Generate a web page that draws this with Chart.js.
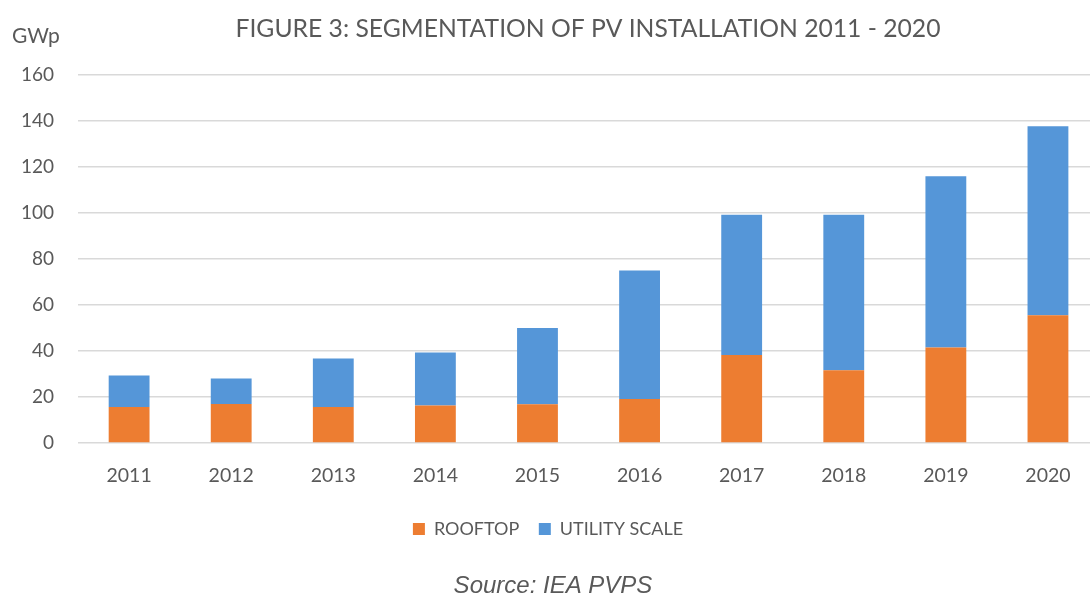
<!DOCTYPE html>
<html lang="en">
<head>
    <meta charset="UTF-8">
    <title>Segmentation of PV installation</title>
    <script src="https://cdn.jsdelivr.net/npm/chart.js"></script>
    <style>
        html, body { margin: 0; padding: 0; background: #fff; overflow: hidden; }
        #wrap { width: 1100px; height: 596px; position: relative; }
    </style>
</head>
<body>
    <div id="wrap"><canvas id="myChart"></canvas></div>

    <script>
// data (GWp)
const years = ['2011', '2012', '2013', '2014', '2015', '2016', '2017', '2018', '2019', '2020'];
const rooftop = [15.7, 17.0, 15.7, 16.3, 16.9, 19.2, 38.3, 31.7, 41.5, 55.6];
const utilityScale = [13.7, 11.1, 21.1, 23.1, 33.1, 55.8, 61.0, 67.6, 74.5, 82.1];
const yTicks = [0, 20, 40, 60, 80, 100, 120, 140, 160];

const grey = '#595959';

// title, unit label and source line
const extraText = {
    id: 'extraText',
    afterDraw(chart) {
        const ctx = chart.ctx;
        ctx.save();
        ctx.fillStyle = grey;
        ctx.textBaseline = 'middle';
        ctx.textAlign = 'center';
        ctx.font = '24.7px Lato';
        ctx.fillText('FIGURE 3: SEGMENTATION OF PV INSTALLATION 2011 - 2020', 588, 29);
        ctx.textAlign = 'left';
        ctx.font = '21px Lato';
        ctx.fillText('GWp', 12, 36);
        ctx.textAlign = 'center';
        ctx.font = 'italic 24px "Liberation Sans"';
        ctx.fillText('Source: IEA PVPS', 553, 586);
        ctx.restore();
    }
};

var ctx = document.getElementById('myChart').getContext('2d');
var myChart = new Chart(ctx, {
    type: 'bar',
    data: {
        labels: years,
        datasets: [{
            label: 'ROOFTOP',
            data: rooftop,
            backgroundColor: '#ED7D31'
        }, {
            label: 'UTILITY SCALE',
            data: utilityScale,
            backgroundColor: '#5596D8'
        }]
    },
    options: {
        responsive: true,
        maintainAspectRatio: false,
        animation: false,
        barPercentage: 0.8,
        categoryPercentage: 0.5,
        layout: { padding: { top: 75, left: -3, right: 1, bottom: 48 } },
        plugins: {
            legend: {
                position: 'bottom',
                labels: {
                    boxWidth: 12,
                    boxHeight: 12,
                    padding: 19.5,
                    color: grey,
                    font: { family: 'Lato', size: 18 }
                }
            },
            tooltip: { enabled: false }
        },
        scales: {
            x: {
                stacked: true,
                grid: { display: false },
                border: { display: false },
                ticks: { color: grey, padding: 13, font: { family: 'Lato', size: 19.5 } }
            },
            y: {
                stacked: true,
                min: 0,
                max: 160,
                afterBuildTicks: axis => { axis.ticks = yTicks.map(v => ({ value: v })); },
                grid: { color: '#d9d9d9', lineWidth: 1.5, drawTicks: false },
                border: { display: false },
                ticks: { color: grey, padding: 24, font: { family: 'Lato', size: 19 } }
            }
        }
    },
    plugins: [extraText]
});
    </script>
</body>
</html>
